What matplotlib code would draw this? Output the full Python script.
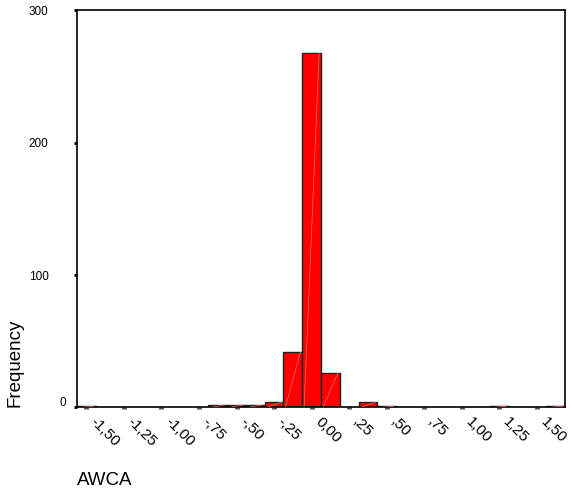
import matplotlib
matplotlib.use("Agg")
import matplotlib.pyplot as plt
import matplotlib.transforms as mtransforms

plt.rcParams['font.family'] = ['Liberation Sans', 'DejaVu Sans']

# Histogram bins (centres, width 0.125) and frequencies
bin_centers = [-1.5, -0.625, -0.5, -0.375, -0.25, -0.125, 0.0, 0.125,
               0.375, 0.5, 1.25, 1.625]
frequencies = [1, 2, 2, 2, 4, 42, 268, 26, 4, 1, 1, 1]
bin_width = 0.125

tick_values = [-1.5, -1.25, -1.0, -0.75, -0.5, -0.25, 0.0, 0.25, 0.5, 0.75,
               1.0, 1.25, 1.5]
tick_labels = ["-1,50", "-1,25", "-1,00", "-,75", "-,50", "-,25", "0,00",
               ",25", ",50", ",75", "1,00", "1,25", "1,50"]
y_ticks = [0, 100, 200, 300]

fig = plt.figure(figsize=(5.72, 5.04), dpi=100)
ax = fig.add_axes([0.1346, 0.1915, 0.8532, 0.7877])

bars = ax.bar(bin_centers, frequencies, width=bin_width, color='#ff0000',
              edgecolor='#202020', linewidth=1.0, zorder=2)
for b in bars:
    x0 = b.get_x()
    w = b.get_width()
    h = b.get_height()
    ax.plot([x0 + w * 0.1, x0 + w * 0.9], [0, h], color='#ff7070',
            lw=0.5, zorder=3, solid_capstyle='butt')

ax.set_xlim(-1.5625, 1.6875)
ax.set_ylim(0, 300)

ax.set_xticks(tick_values)
ax.set_xticklabels(tick_labels, rotation=-45, ha='left', va='center',
                   rotation_mode='anchor', fontsize=11)
ax.set_yticks(y_ticks)
ax.set_yticklabels([str(v) for v in y_ticks], fontsize=8.5)

ax.tick_params(axis='x', direction='out', length=1.5, width=3.5,
               color='#505050', pad=7)
ax.tick_params(axis='y', direction='out', length=2.5, width=2, color='black',
               pad=18)

xoff = mtransforms.ScaledTranslation(0.06, 0.0, fig.dpi_scale_trans)
for lab in ax.get_xticklabels():
    lab.set_transform(lab.get_transform() + xoff)

# the "0" label sits closer to the axis (and slightly higher) in the reference
zoff = mtransforms.ScaledTranslation(0.18, 0.06, fig.dpi_scale_trans)
ylabs = ax.get_yticklabels()
ylabs[0].set_transform(ylabs[0].get_transform() + zoff)

for s in ax.spines.values():
    s.set_linewidth(1.2)
    s.set_color('black')

ax.set_ylabel('Frequency', fontsize=13.5, loc='bottom')
ax.yaxis.set_label_coords(-0.11, 0.0)
ax.set_xlabel('AWCA', fontsize=13.5, loc='left', va='center')
ax.xaxis.set_label_coords(0.0, -0.183)

fig.savefig('out.png', dpi=100)
